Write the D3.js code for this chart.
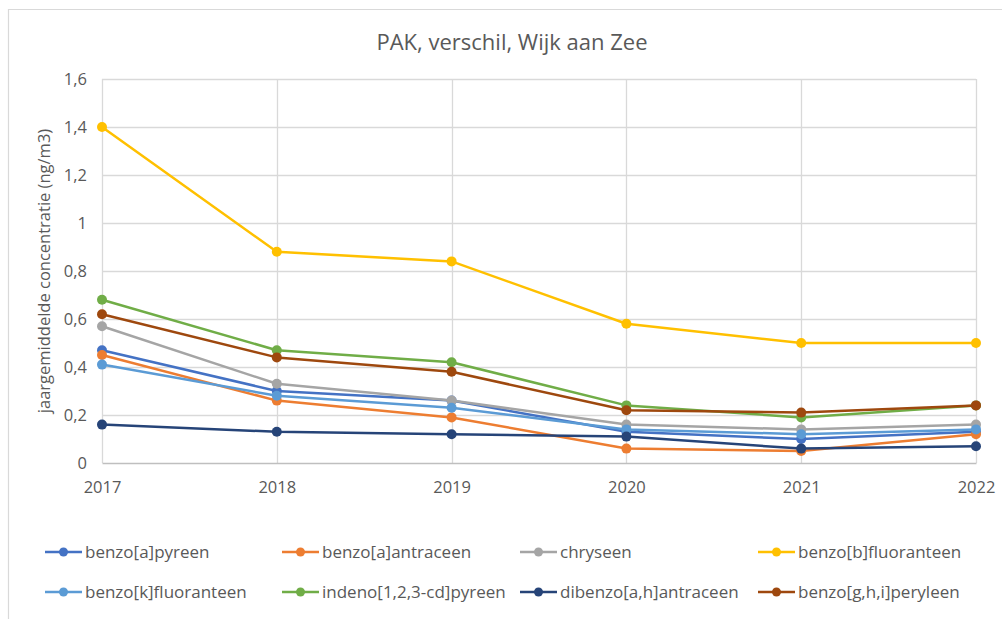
<!DOCTYPE html>
<html>
<head>
<meta charset="utf-8">
<script src="https://cdn.jsdelivr.net/npm/d3@7"></script>
<style>
  html, body { margin: 0; padding: 0; background: #fff; }
  svg { display: block; font-family: "Open Sans", "Liberation Sans", sans-serif; }
</style>
</head>
<body>
<svg id="chart" width="1002" height="619"></svg>
<script>
// Years on the horizontal axis
const years = [2017, 2018, 2019, 2020, 2021, 2022];

// Series names and yearly averages (ng/m3)
const seriesNames = [
  "benzo[a]pyreen", "benzo[a]antraceen", "chryseen", "benzo[b]fluoranteen",
  "benzo[k]fluoranteen", "indeno[1,2,3-cd]pyreen", "dibenzo[a,h]antraceen", "benzo[g,h,i]peryleen"
];
const benzoAPyreen       = [0.47, 0.30, 0.26, 0.13, 0.10, 0.13];
const benzoAAntraceen    = [0.45, 0.26, 0.19, 0.06, 0.05, 0.12];
const chryseen           = [0.57, 0.33, 0.26, 0.16, 0.14, 0.16];
const benzoBFluoranteen  = [1.40, 0.88, 0.84, 0.58, 0.50, 0.50];
const benzoKFluoranteen  = [0.41, 0.28, 0.23, 0.14, 0.12, 0.14];
const indenoPyreen       = [0.68, 0.47, 0.42, 0.24, 0.19, 0.24];
const dibenzoAntraceen   = [0.16, 0.13, 0.12, 0.11, 0.06, 0.07];
const benzoGHIPeryleen   = [0.62, 0.44, 0.38, 0.22, 0.21, 0.24];
const seriesValues = [
  benzoAPyreen, benzoAAntraceen, chryseen, benzoBFluoranteen,
  benzoKFluoranteen, indenoPyreen, dibenzoAntraceen, benzoGHIPeryleen
];
const seriesColors = ["#4472C4", "#ED7D31", "#A5A5A5", "#FFC000", "#5B9BD5", "#70AD47", "#264478", "#9E480E"];

// Y-axis tick values and their labels (decimal comma)
const yTicks = [0, 0.2, 0.4, 0.6, 0.8, 1, 1.2, 1.4, 1.6];
const yTickLabels = ["0", "0,2", "0,4", "0,6", "0,8", "1", "1,2", "1,4", "1,6"];

const svg = d3.select("#chart");
const plot = { left: 102, right: 976, top: 79, bottom: 463 };
const textColor = "#595959";

const x = d3.scalePoint().domain(years).range([plot.left, plot.right]);
const y = d3.scaleLinear().domain([0, 1.6]).range([plot.bottom, plot.top]);

// Outer chart frame
svg.append("path")
  .attr("d", `M8.5,619 V9.5 H1002`)
  .attr("fill", "none").attr("stroke", "#d9d9d9").attr("stroke-width", 1.2);

// Title
svg.append("text")
  .attr("x", 512).attr("y", 50).attr("text-anchor", "middle")
  .attr("font-size", 22).attr("fill", textColor)
  .text("PAK, verschil, Wijk aan Zee");

// Horizontal gridlines
svg.append("g").selectAll("line").data(yTicks.filter(d => d > 0)).join("line")
  .attr("x1", plot.left).attr("x2", plot.right)
  .attr("y1", d => Math.round(y(d)) + 0.5).attr("y2", d => Math.round(y(d)) + 0.5)
  .attr("stroke", "#d9d9d9").attr("stroke-width", 1.3);

// Vertical gridlines
svg.append("g").selectAll("line").data(years).join("line")
  .attr("x1", d => Math.round(x(d)) + 0.5).attr("x2", d => Math.round(x(d)) + 0.5)
  .attr("y1", plot.top).attr("y2", plot.bottom)
  .attr("stroke", "#d9d9d9").attr("stroke-width", 1.3);

// Y axis labels
const yAxis = d3.axisLeft(y).tickValues(yTicks)
  .tickFormat((d, i) => yTickLabels[i]).tickSize(0).tickPadding(15);
const gy = svg.append("g").attr("transform", `translate(${plot.left},0)`).call(yAxis);
gy.select(".domain").remove();
gy.selectAll("text").attr("font-size", 16.5).attr("fill", textColor)
  .attr("font-family", "'Open Sans', sans-serif");

// X axis line and labels
const xAxis = d3.axisBottom(x).tickSize(0).tickPadding(18).tickFormat(d3.format("d"));
const gx = svg.append("g").attr("transform", `translate(0,${plot.bottom})`).call(xAxis);
gx.select(".domain").attr("stroke", "#bfbfbf").attr("stroke-width", 1.5);
gx.selectAll("text").attr("font-size", 16.5).attr("fill", textColor)
  .attr("font-family", "'Open Sans', sans-serif");

// Y axis title
svg.append("text")
  .attr("transform", `translate(50,${(plot.top + plot.bottom) / 2}) rotate(-90)`)
  .attr("text-anchor", "middle").attr("font-size", 16.5).attr("fill", textColor)
  .text("jaargemiddelde concentratie (ng/m3)");

// Series lines and markers
const line = d3.line().x((d, i) => x(years[i])).y(d => y(d));
const seriesData = seriesNames.map((name, i) => ({ name, values: seriesValues[i], color: seriesColors[i] }));

const series = svg.append("g").selectAll("g").data(seriesData).join("g");
series.append("path")
  .attr("d", d => line(d.values))
  .attr("fill", "none").attr("stroke", d => d.color)
  .attr("stroke-width", 2.5).attr("stroke-linejoin", "round");
series.selectAll("circle").data(d => d.values.map((v, i) => ({ v, i, color: d.color }))).join("circle")
  .attr("cx", d => x(years[d.i])).attr("cy", d => y(d.v)).attr("r", 5)
  .attr("fill", d => d.color);

// Legend: two rows of four entries
const legendCols = [45, 282, 520, 758];
const legendRows = [552, 592];
const legend = svg.append("g").selectAll("g").data(seriesData).join("g")
  .attr("transform", (d, i) => `translate(${legendCols[i % 4]},${legendRows[Math.floor(i / 4)]})`);
legend.append("line").attr("x1", 0).attr("x2", 37).attr("y1", 0).attr("y2", 0)
  .attr("stroke", d => d.color).attr("stroke-width", 2.5);
legend.append("circle").attr("cx", 18.5).attr("cy", 0).attr("r", 4.5).attr("fill", d => d.color);
legend.append("text").attr("x", 40).attr("y", 0).attr("dy", "0.35em")
  .attr("font-size", 17).attr("fill", textColor).text(d => d.name);
</script>
</body>
</html>
